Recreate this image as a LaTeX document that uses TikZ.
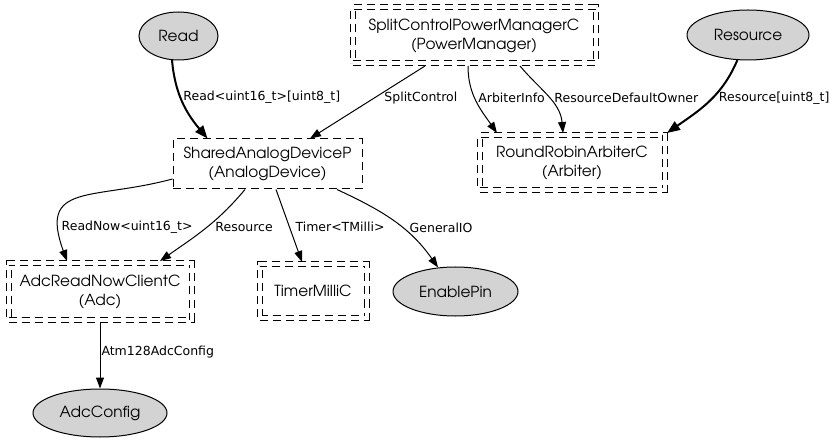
\documentclass[tikz,border=0pt]{standalone}
\usepackage{fontspec}
\setmainfont{DejaVu Sans}
\newfontfamily\gothicfont{texgyreadventor-regular.otf}
\usepackage{tikz}
\usetikzlibrary{arrows.meta, shapes.geometric, positioning}
\definecolor{nodegray}{HTML}{D3D3D3}
\tikzset{
    compnode/.style = {draw, rectangle, dash pattern=on 8pt off 5pt, line width=1pt, inner sep=0pt,
      font=\gothicfont\fontsize{15.3}{19}\selectfont, align=center},
    doublenode/.style = {compnode, double, double distance=4pt, outer sep=2.5pt},
    ellipsenode/.style = {draw, ellipse, fill=nodegray, line width=1pt, inner sep=0pt,
      font=\gothicfont\fontsize{15.3}{19}\selectfont},
    connect/.style = {black, line width=1pt, -{Triangle[length=11pt, width=8pt]}},
    thickconnect/.style = {black, line width=2pt, -{Triangle[length=13pt, width=10pt]}},
    edgelabel/.style = {inner sep=0pt, font=\fontsize{12.5}{14}\selectfont}
}

\begin{document}
\begin{tikzpicture}[x=1pt, y=1pt]
    \useasboundingbox (0,0) rectangle (837,-443);

    \node [ellipsenode, name=Read, minimum width=79pt, minimum height=48pt] at (178.5,-36) {Read};
    \node [doublenode, name=PM, minimum width=243pt, minimum height=56pt] at (474,-35.5) {SplitControlPowerManagerC\\(PowerManager)};
    \node [ellipsenode, name=Res, minimum width=122pt, minimum height=50pt] at (748,-35) {Resource};
    \node [compnode, name=AD, minimum width=189pt, minimum height=50pt] at (267.5,-164) {SharedAnalogDeviceP\\(AnalogDevice)};
    \node [doublenode, name=Arb, minimum width=185pt, minimum height=55pt] at (572,-163) {RoundRobinArbiterC\\(Arbiter)};
    \node [doublenode, name=Adc, minimum width=183pt, minimum height=56pt] at (100,-291.5) {AdcReadNowClientC\\(Adc)};
    \node [doublenode, name=Tmr, minimum width=107pt, minimum height=53pt] at (313,-291) {TimerMilliC};
    \node [ellipsenode, name=EP, minimum width=125pt, minimum height=49pt] at (455.5,-291.5) {EnablePin};
    \node [ellipsenode, name=AC, minimum width=134pt, minimum height=48pt] at (100,-413) {AdcConfig};

    % top row of wires
    \draw (Read.-105) edge[thickconnect, out=-85, in=130] node[edgelabel, pos=.43, right=2pt] {Read<uint16\_t>[uint8\_t]} ([xshift=-60pt]AD.north);
    \draw ([xshift=-49pt]PM.south) edge[connect] node[edgelabel, pos=.44, right=9.5pt] {SplitControl} ([xshift=42.5pt]AD.north);
    \draw ([xshift=-6pt]PM.south) edge[connect, out=-90, in=125] node[edgelabel, pos=.45, right=3pt] {ArbiterInfo} ([xshift=-75pt]Arb.north);
    \draw ([xshift=46pt]PM.south) edge[connect, out=-50, in=95] node[edgelabel, pos=.52, right=5pt] {ResourceDefaultOwner} ([xshift=-9pt]Arb.north);
    \draw (Res.-113) edge[thickconnect, out=-113, in=35] node[edgelabel, pos=.45, right=6pt] {Resource[uint8\_t]} (Arb.north east);

    % middle row of wires
    \draw ([yshift=-15pt]AD.west) edge[connect, out=195, in=110, looseness=1.6] node[edgelabel, pos=.82, right=2pt] {ReadNow<uint16\_t>} ([xshift=-33pt]Adc.north);
    \draw ([xshift=-22.5pt]AD.south) edge[connect, out=-130, in=35] node[edgelabel, pos=.48, right=8pt] {Resource} ([xshift=60pt]Adc.north);
    \draw ([xshift=8.5pt]AD.south) edge[connect] node[edgelabel, pos=.52, right=5.5pt] {Timer<TMilli>} ([xshift=-11pt]Tmr.north);
    \draw ([xshift=69.5pt]AD.south) edge[connect, out=-25, in=125] node[edgelabel, pos=.59, right=7pt] {GeneralIO} (EP.126);

    \draw (Adc) edge[connect] node[edgelabel, pos=.45, right=1pt] {Atm128AdcConfig} (AC);
\end{tikzpicture}
\end{document}
